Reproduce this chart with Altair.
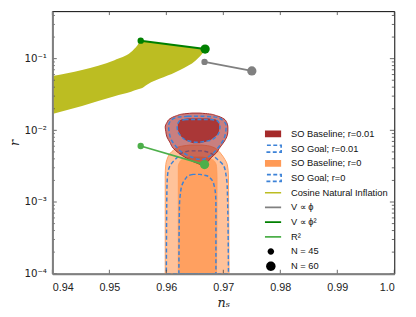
import json
import altair as alt
import pandas as pd

W, H = 349, 268

# ---------------- axes ----------------
ns_ticks = [0.94, 0.95, 0.96, 0.97, 0.98, 0.99, 1.0]
ns_tick_labels = ["0.94", "0.95", "0.96", "0.97", "0.98", "0.99", "1.0"]
r_ticks = [1e-4, 1e-3, 1e-2, 1e-1]
r_tick_labels = ["10⁻⁴", "10⁻³", "10⁻²", "10⁻¹"]
r_minor_ticks = [m * d for d in (1e-4, 1e-3, 1e-2) for m in range(2, 10)] + [0.2, 0.3, 0.4]

# ---------------- Cosine natural inflation band ----------------
cni_ns = [0.9400, 0.9452, 0.9509, 0.9538, 0.9549, 0.9555, 0.9566, 0.9624, 0.9652, 0.9668]
cni_r_upper = [0.0572, 0.0695, 0.0951, 0.1234, 0.1524, 0.1782, 0.1733, 0.1518, 0.1421, 0.1369]
cni_r_lower = [0.0169, 0.0219, 0.0300, 0.0346, 0.0371, 0.0382, 0.0434, 0.0695, 0.0951, 0.1302]

# ---------------- models (N = 45, N = 60) ----------------
efolds = [45, 60]
phi_ns = [0.9667, 0.9750]
phi_r = [0.0901, 0.0673]
phi2_ns = [0.9555, 0.9668]
phi2_r = [0.178, 0.136]
r2_ns = [0.9555, 0.9667]
r2_r = [0.00605, 0.00333]

# ---------------- SO Baseline r=0.01 (2 sigma / 1 sigma) ----------------
b01_out_r = [0.0174, 0.0169, 0.0160, 0.01445, 0.01285, 0.0111, 0.0097, 0.0081, 0.00686, 0.00563, 0.00486, 0.00411, 0.00366, 0.00328]
b01_out_lo = [0.9645, 0.9629, 0.9618, 0.9606, 0.9601, 0.9598, 0.9599, 0.9601, 0.9606, 0.9612, 0.9621, 0.9635, 0.9647, 0.9662]
b01_out_hi = [0.9659, 0.9676, 0.9688, 0.9701, 0.9706, 0.9708, 0.9708, 0.9706, 0.9701, 0.9693, 0.9688, 0.9678, 0.9673, 0.9666]
b01_in_r = [0.01445, 0.0139, 0.01246, 0.01055, 0.00901, 0.00802, 0.0073, 0.00671]
b01_in_lo = [0.9638, 0.9626, 0.9621, 0.9621, 0.9624, 0.9628, 0.9635, 0.9647]
b01_in_hi = [0.9673, 0.9687, 0.9692, 0.9692, 0.9690, 0.9683, 0.9675, 0.9659]

# ---------------- SO Goal r=0.01 ----------------
g01_out_r = [0.01567, 0.01519, 0.01369, 0.0117, 0.00939, 0.0073, 0.00563, 0.00506, 0.00432, 0.00396]
g01_out_lo = [0.9638, 0.9618, 0.9608, 0.9604, 0.9605, 0.9609, 0.9620, 0.9626, 0.9642, 0.9654]
g01_out_hi = [0.9666, 0.9690, 0.9699, 0.9705, 0.9704, 0.9700, 0.9690, 0.9685, 0.9675, 0.9666]
g01_in_r = [0.01413, 0.01348, 0.01134, 0.00969, 0.00828, 0.0073, 0.0068]
g01_in_lo = [0.9635, 0.9623, 0.9619, 0.9620, 0.9626, 0.9635, 0.9651]
g01_in_hi = [0.9678, 0.9690, 0.9694, 0.9693, 0.9688, 0.9678, 0.9657]

# ---------------- SO Baseline r=0 ----------------
b0_out_r = [0.00624, 0.00605, 0.00586, 0.00533, 0.00481, 0.0039, 0.00333, 0.00231, 0.0001]
b0_out_lo = [0.9642, 0.9629, 0.9621, 0.9613, 0.9607, 0.9601, 0.9599, 0.9598, 0.9598]
b0_out_hi = [0.9663, 0.9675, 0.9681, 0.9690, 0.9695, 0.9703, 0.9707, 0.9709, 0.9710]
b0_in_r = [0.00424, 0.00408, 0.0039, 0.00355, 0.00316, 0.00208, 0.0001]
b0_in_lo = [0.9642, 0.9632, 0.9627, 0.9623, 0.9621, 0.9621, 0.9621]
b0_in_hi = [0.9663, 0.9675, 0.9681, 0.9686, 0.9688, 0.9689, 0.9688]

# ---------------- SO Goal r=0 ----------------
g0_out_r = [0.00517, 0.00486, 0.00411, 0.00316, 0.00231, 0.00152, 0.0001]
g0_out_lo = [0.9640, 0.9628, 0.9618, 0.9606, 0.9602, 0.9601, 0.9600]
g0_out_hi = [0.9664, 0.9676, 0.9687, 0.9701, 0.9705, 0.9707, 0.9709]
g0_in_r = [0.00243, 0.00232, 0.00219, 0.00197, 0.00168, 0.00137, 0.0009, 0.0001]
g0_in_lo = [0.9647, 0.9638, 0.9635, 0.9631, 0.9627, 0.9625, 0.9623, 0.9622]
g0_in_hi = [0.9659, 0.9671, 0.9676, 0.9681, 0.9684, 0.9686, 0.9687, 0.9687]

# ---------------- legend ----------------
legend_labels = ["SO Baseline; r=0.01", "SO Goal; r=0.01", "SO Baseline; r=0", "SO Goal; r=0",
                 "Cosine Natural Inflation", "V ∝ ϕ", "V ∝ ϕ²", "R²", "N = 45", "N = 60"]

# ---------------- styles ----------------
BROWN = "#a52a2a"
ORANGE = "#ff9a56"
BLUE = "#3c82d7"
OLIVE = "#bcbd22"
GRAY = "#808080"
DKGREEN = "#008000"
LTGREEN = "#4daf4a"
DASH = [4, 2.5]

# legend symbol paths (unit = half of a 10 px symbol)
RECT = "M-2.1,-0.7H2.1V0.7H-2.1Z"
LINE = "M-2.1,0H2.1"
DOT_S = "M-0.66,0A0.66,0.66,0,1,1,0.66,0A0.66,0.66,0,1,1,-0.66,0Z"
DOT_L = "M-0.96,0A0.96,0.96,0,1,1,0.96,0A0.96,0.96,0,1,1,-0.96,0Z"
legend_fill = [BROWN, "transparent", ORANGE, "transparent", "transparent", "transparent",
               "transparent", "transparent", "black", "black"]
legend_stroke = ["transparent", BLUE, "transparent", BLUE, OLIVE, GRAY, DKGREEN, LTGREEN,
                 "transparent", "transparent"]
legend_shape = [RECT, RECT, RECT, RECT, LINE, LINE, LINE, LINE, DOT_S, DOT_L]
legend_dash = [[1, 0], DASH, [1, 0], DASH, [1, 0], [1, 0], [1, 0], [1, 0], [1, 0], [1, 0]]

# ---------------- scales / axes ----------------
xs = alt.Scale(domain=[0.94, 1.0], nice=False, zero=False)
ys = alt.Scale(type="log", domain=[1e-4, 0.46], nice=False)

x_label_expr = json.dumps(ns_tick_labels, ensure_ascii=False) + "[round((datum.value - 0.94) * 100)]"
y_label_expr = json.dumps(r_tick_labels, ensure_ascii=False) + "[round(log(datum.value) / LN10) + 4]"

x_axis = alt.Axis(values=ns_ticks, labelExpr=x_label_expr, title="nₛ", ticks=False, grid=False,
                  domainColor="#808080", domainWidth=2, labelPadding=8, titlePadding=4,
                  labelFont="Liberation Sans", labelFontSize=11, labelColor="#222",
                  titleFont="DejaVu Serif", titleFontStyle="italic", titleFontWeight="normal",
                  titleFontSize=13, titleColor="#222", zindex=1)
y_axis = alt.Axis(values=r_ticks, labelExpr=y_label_expr, title="r", ticks=False, grid=False,
                  domainColor="#808080", domainWidth=2, labelPadding=6, titlePadding=2,
                  labelFont="DejaVu Sans", labelFontSize=10.5, labelColor="#222",
                  titleFont="DejaVu Serif", titleFontStyle="italic", titleFontWeight="normal",
                  titleFontSize=13, titleColor="#222", zindex=1)


def X(f):
    return alt.X(f, type="quantitative", scale=xs, axis=x_axis)


def Y(f):
    return alt.Y(f, type="quantitative", scale=ys, axis=y_axis)


def hband(r, lo, hi, **mark):
    df = pd.DataFrame({"r": r, "lo": lo, "hi": hi})
    return alt.Chart(df).mark_area(orient="horizontal", interpolate="monotone", **mark).encode(
        y=Y("r"), x=X("lo"), x2=alt.X2("hi"))


def model(ns, r, color, width):
    df = pd.DataFrame({"ns": ns, "r": r, "N": efolds})
    line = alt.Chart(df).mark_line(color=color, strokeWidth=width).encode(x=X("ns"), y=Y("r"))
    pts = alt.Chart(df).mark_circle(color=color, opacity=1).encode(
        x=X("ns"), y=Y("r"),
        size=alt.Size("N:Q", scale=alt.Scale(domain=[45, 60], range=[42, 90]), legend=None))
    return [line, pts]


cni_df = pd.DataFrame({"ns": cni_ns, "up": cni_r_upper, "lo": cni_r_lower})
cni = alt.Chart(cni_df).mark_area(color=OLIVE, opacity=1, interpolate="monotone").encode(
    x=X("ns"), y=Y("up"), y2=alt.Y2("lo"))

layers = [
    cni,
    hband(b0_out_r, b0_out_lo, b0_out_hi, fill=ORANGE, fillOpacity=0.6, stroke=ORANGE, strokeWidth=1, strokeOpacity=0.9),
    hband(b0_in_r, b0_in_lo, b0_in_hi, fill=ORANGE, fillOpacity=0.85, stroke=ORANGE, strokeWidth=0.8),
    hband(g0_out_r, g0_out_lo, g0_out_hi, fillOpacity=0, stroke=BLUE, strokeWidth=1.5, strokeDash=DASH),
    hband(g0_in_r, g0_in_lo, g0_in_hi, fillOpacity=0, stroke=BLUE, strokeWidth=1.5, strokeDash=DASH),
    hband(b01_out_r, b01_out_lo, b01_out_hi, fill=BROWN, fillOpacity=0.6, stroke=BROWN, strokeWidth=1),
    hband(b01_in_r, b01_in_lo, b01_in_hi, fill=BROWN, fillOpacity=0.85, stroke=BROWN, strokeWidth=0.8),
    hband(g01_out_r, g01_out_lo, g01_out_hi, fillOpacity=0, stroke=BLUE, strokeWidth=1.5, strokeDash=DASH),
    hband(g01_in_r, g01_in_lo, g01_in_hi, fillOpacity=0, stroke=BLUE, strokeWidth=1.5, strokeDash=DASH),
]
layers += model(phi_ns, phi_r, GRAY, 1.8)
layers += model(phi2_ns, phi2_r, DKGREEN, 2)
layers += model(r2_ns, r2_r, LTGREEN, 1.8)

# inward ticks
ymaj = pd.DataFrame({"r": r_ticks})
ymin = pd.DataFrame({"r": r_minor_ticks})
xmaj = pd.DataFrame({"ns": ns_ticks})
TICK = "#444"
for df, ln in ((ymaj, 4.5), (ymin, 2.5)):
    layers.append(alt.Chart(df).mark_rule(color=TICK, strokeWidth=0.8).encode(
        y=Y("r"), x=alt.value(0), x2=alt.value(ln)))
    layers.append(alt.Chart(df).mark_rule(color=TICK, strokeWidth=0.8).encode(
        y=Y("r"), x=alt.value(W), x2=alt.value(W - ln)))
layers.append(alt.Chart(xmaj).mark_rule(color=TICK, strokeWidth=0.8).encode(
    x=X("ns"), y=alt.value(H), y2=alt.value(H - 4)))
layers.append(alt.Chart(xmaj).mark_rule(color=TICK, strokeWidth=0.8).encode(
    x=X("ns"), y=alt.value(0), y2=alt.value(4)))

# legend (drawn by the library from explicit scales)
leg = alt.Legend(title=None, orient="none", legendX=217, legendY=118.2, symbolSize=100,
                 symbolStrokeWidth=1.7, symbolFillColor="transparent", symbolOpacity=1,
                 labelFont="Liberation Sans", labelFontSize=9.5, labelColor="#111",
                 labelOffset=14.5, rowPadding=0, clipHeight=14.3, padding=0, symbolOffset=0,
                 labelLimit=0)
leg_df = pd.DataFrame({"entry": legend_labels})
legend_layer = alt.Chart(leg_df).mark_point(opacity=1).encode(
    fill=alt.Fill("entry:N", scale=alt.Scale(domain=legend_labels, range=legend_fill), legend=leg),
    stroke=alt.Stroke("entry:N", scale=alt.Scale(domain=legend_labels, range=legend_stroke), legend=leg),
    shape=alt.Shape("entry:N", scale=alt.Scale(domain=legend_labels, range=legend_shape), legend=leg),
    strokeDash=alt.StrokeDash("entry:N", scale=alt.Scale(domain=legend_labels, range=legend_dash), legend=leg),
).transform_filter("false")
layers.append(legend_layer)

chart = alt.layer(*layers).properties(
    width=W, height=H,
    autosize=alt.AutoSizeParams(type="none"),
    padding={"left": 45.3, "top": 0, "right": 14, "bottom": 41},
).configure_view(stroke="black", strokeWidth=1)

chart.save("out.html", embed_options={"renderer": "svg", "actions": False})
